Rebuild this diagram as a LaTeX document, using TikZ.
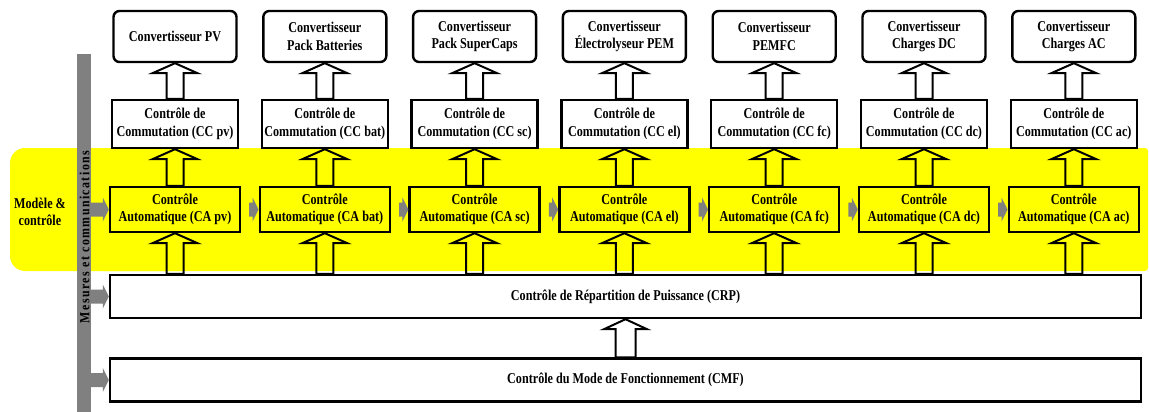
\documentclass[tikz,border=0pt]{standalone}
\usepackage{fontspec}
\setmainfont{Liberation Serif}[FakeStretch=0.81]
\newfontfamily\barfont{Liberation Serif}[FakeStretch=0.85,LetterSpace=10]
\usetikzlibrary{calc}
\definecolor{barcol}{HTML}{808080}
\definecolor{band}{HTML}{FFFF00}
\tikzset{
  txt/.style={align=center, inner sep=0pt, font=\bfseries\fontsize{15}{17.5}\selectfont},
  convbox/.style={txt, draw, line width=2.4pt, rounded corners=6pt, fill=white, minimum width=123pt, minimum height=51pt},
  ccbox/.style={txt, draw, line width=2.4pt, fill=white, minimum width=126pt, minimum height=48pt},
  cabox/.style={txt, draw, line width=2.4pt, minimum width=130pt, minimum height=45pt},
  widebox/.style={txt, draw, line width=2.4pt, fill=white, minimum width=1031pt, minimum height=43pt},
  barr/.style={draw=black, line width=2pt, line join=miter},
  garr/.style={fill=barcol},
}
\newcommand\blockarrow[4]{% #1 from (tail), #2 to (tip), #3 shaft half width, #4 head half width
  \draw[barr] let \p1=(#1), \p2=(#2) in
    (\x2-#3,\y1) -- (\x2-#3,\y2-10pt) -- (\x2-#4,\y2-10pt) -- (\x2,\y2)
    -- (\x2+#4,\y2-10pt) -- (\x2+#3,\y2-10pt) -- (\x2+#3,\y1) -- cycle;}
\newcommand\grayarrow[2]{% #1 start (x used), #2 target (tip)
  \fill[garr] let \p1=(#1), \p2=(#2) in
    (\x1,\y2+7pt) -- (\x2-6pt,\y2+7pt) -- (\x2-6pt,\y2+12pt) -- (\x2,\y2)
    -- (\x2-6pt,\y2-12pt) -- (\x2-6pt,\y2-7pt) -- (\x1,\y2-7pt) -- cycle;}
\begin{document}
\begin{tikzpicture}[x=1pt, y=-1pt]
\useasboundingbox (0,0) rectangle (1149,412);
% yellow band
\fill[band, rounded corners=15pt] (10,148) rectangle (200,271);
\fill[band, rounded corners=3pt] (100,148) rectangle (1148,271);
\node[txt] (mc) at (40,212) {Modèle \&\\contrôle};
% vertical bar
\node[fill=barcol, minimum width=14pt, minimum height=358pt, inner sep=0pt] (bar) at (84,233) {};
\node[rotate=90, inner sep=0pt, font=\barfont\bfseries\fontsize{14}{16}\selectfont] (bartxt) at (84.5,237) {Mesures et communications};
% columns
\foreach \i/\cv/\s in {0/{Convertisseur PV}/pv, 1/{Convertisseur\\Pack Batteries}/bat, 2/{Convertisseur\\Pack SuperCaps}/sc, 3/{Convertisseur\\Électrolyseur PEM}/el, 4/{Convertisseur\\PEMFC}/fc, 5/{Convertisseur\\Charges DC}/dc, 6/{Convertisseur\\Charges AC}/ac}{
  \pgfmathsetmacro\cx{175+149.8*\i}
  \node[convbox] (cv\i) at (\cx,36.5) {\cv};
  \node[ccbox] (cc\i) at (\cx,124) {Contrôle de\\Commutation (CC \s)};
  \node[cabox] (ca\i) at (\cx,209.5) {Contrôle\\Automatique (CA \s)};
}
\node[widebox] (crp) at (625.5,296.5) {Contrôle de Répartition de Puissance (CRP)};
\node[widebox] (cmf) at (625.5,380) {Contrôle du Mode de Fonctionnement (CMF)};
% block arrows
\foreach \i in {0,...,6}{
  \blockarrow{cc\i.north}{cv\i.south}{8.5pt}{22.5pt}
  \blockarrow{ca\i.north}{cc\i.south}{8.5pt}{22.5pt}
  \blockarrow{crp.north-|ca\i.south}{ca\i.south}{8.5pt}{22.5pt}
}
\blockarrow{cmf.north}{crp.south}{10pt}{21.5pt}
% gray arrows
\grayarrow{bar.east}{ca0.west}
\foreach \i [evaluate=\i as \j using int(\i+1)] in {0,...,5}{
  \coordinate (gs\i) at ($(ca\i.east)+(8,0)$);
  \grayarrow{gs\i}{ca\j.west}
}
\grayarrow{bar.east}{crp.west}
\grayarrow{bar.east}{cmf.west}
\end{tikzpicture}
\end{document}
